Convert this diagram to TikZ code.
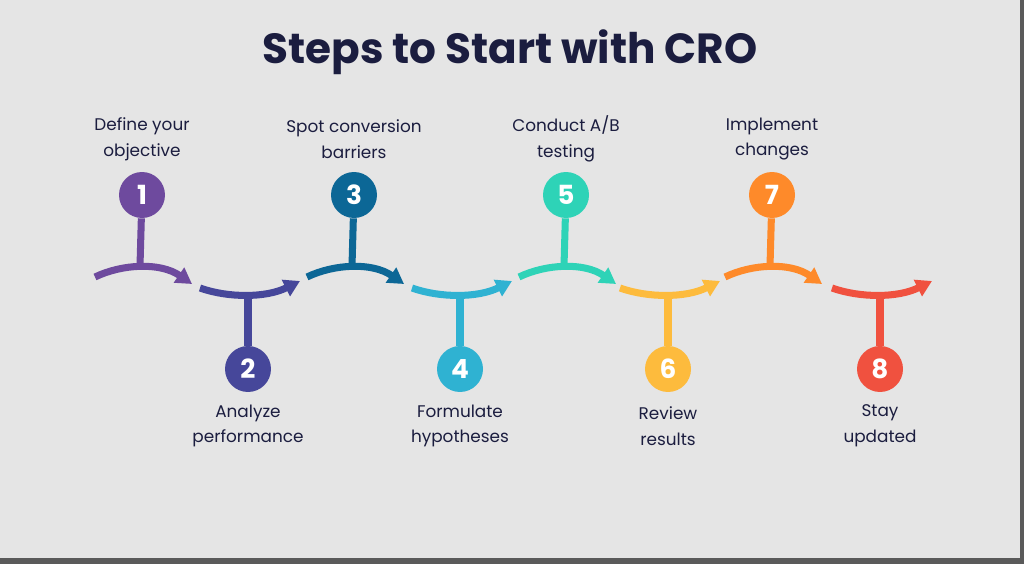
\documentclass[tikz,border=0pt]{standalone}
\usepackage{fontspec}
\setmainfont{Poppins}
\usetikzlibrary{positioning,arrows.meta}
\definecolor{bgc}{HTML}{E5E5E5}
\definecolor{edgec}{HTML}{5A5A5A}
\definecolor{titlec}{HTML}{1B1D3F}
\definecolor{s1}{HTML}{6E4A9E}
\definecolor{s2}{HTML}{46479A}
\definecolor{s3}{HTML}{0C6796}
\definecolor{s4}{HTML}{2FB2D2}
\definecolor{s5}{HTML}{2ED3B7}
\definecolor{s6}{HTML}{FDBB3D}
\definecolor{s7}{HTML}{FE8A2A}
\definecolor{s8}{HTML}{F0513F}
\tikzset{
  bubble/.style={circle,minimum size=0.92cm,inner sep=0pt,text=white,font=\fontsize{15}{15}\selectfont\bfseries},
  steplabel/.style={align=center,text=titlec,font=\fontsize{9.6}{14.6}\selectfont},
  curvearrow/.style={line width=4pt,-{Triangle[length=9pt,width=10pt]}},
  stem/.style={line width=4pt}
}
\begin{document}
\begin{tikzpicture}[x=0.02cm,y=-0.02cm]
\fill[edgec] (0,0) rectangle (1024,564);
\fill[bgc] (0,0) rectangle (1020,558);
\node (title) at (510,52) {\fontsize{24}{24}\selectfont\bfseries\color{titlec}Steps to Start with CRO};
%
\foreach \i/\cx/\txt in {1/142/{Define your\\objective},3/354/{Spot conversion\\barriers},5/566/{Conduct A/B\\testing},7/772/{Implement\\changes}} {
  \node[bubble,fill=s\i] (c\i) at (\cx,195) {\i};
  \coordinate (j\i) at (\cx-2,266);
  \draw[stem,s\i] (c\i) -- (j\i);
  \draw[curvearrow,s\i] (\cx-47,277) .. controls (\cx-20,264) and (\cx+18,262) .. (\cx+50,284);
  \node[steplabel] (t\i) at (\cx,139) {\txt};
}
\foreach \i/\cx/\txt in {2/248/{Analyze\\performance},4/460/{Formulate\\hypotheses},6/668/{Review\\results},8/880/{Stay\\updated}} {
  \node[bubble,fill=s\i] (c\i) at (\cx,369) {\i};
  \coordinate (j\i) at (\cx,296);
  \draw[stem,s\i] (c\i) -- (j\i);
  \draw[curvearrow,s\i] (\cx-48,288) .. controls (\cx-20,298) and (\cx+18,298) .. (\cx+52,281);
  \node[steplabel] (t\i) at (\cx,426) {\txt};
}
\end{tikzpicture}
\end{document}
